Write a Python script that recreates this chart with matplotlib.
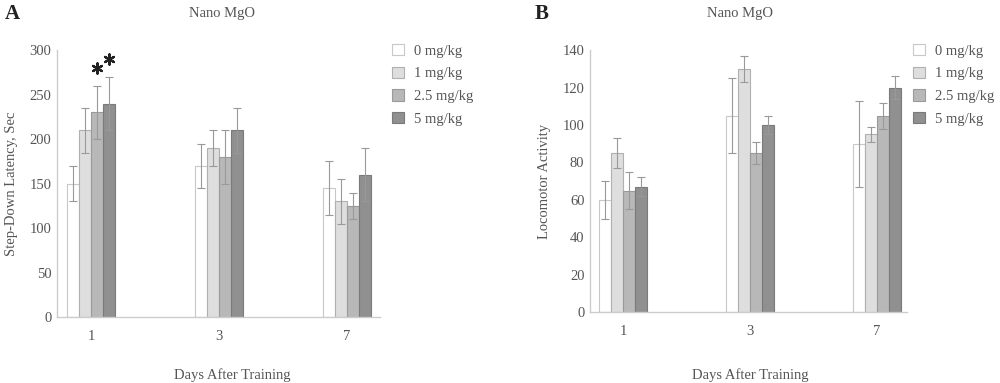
import matplotlib
matplotlib.use("Agg")
import matplotlib.pyplot as plt
import numpy as np

days = ["1", "3", "7"]
doses = ["0 mg/kg", "1 mg/kg", "2.5 mg/kg", "5 mg/kg"]
colors = ["#ffffff", "#dedede", "#b8b8b8", "#909090"]
edges = ["#c8c8c8", "#b0b0b0", "#9a9a9a", "#7a7a7a"]

latency_mean = [[150, 210, 230, 240], [170, 190, 180, 210], [145, 130, 125, 160]]
latency_err = [[20, 25, 30, 30], [25, 20, 30, 25], [30, 25, 15, 30]]
loco_mean = [[60, 85, 65, 67], [105, 130, 85, 100], [90, 95, 105, 120]]
loco_err = [[10, 8, 10, 5], [20, 7, 6, 5], [23, 4, 7, 6]]
star_groups = [2, 3]

plt.rcParams['font.family'] = ['Liberation Serif', 'DejaVu Serif']
txt = "#555555"
fs = 10.5

fig = plt.figure(figsize=(10, 3.83), dpi=100)
axA = fig.add_axes([0.057, 0.172, 0.323, 0.697])
axB = fig.add_axes([0.590, 0.185, 0.317, 0.684])

w = 0.094
x = np.arange(len(days))

def draw(ax, means, errs, ylim, yticks, ylabel):
    means = np.array(means)
    errs = np.array(errs)
    handles = []
    for j in range(len(doses)):
        pos = x + (j - 1.5) * w
        b = ax.bar(pos, means[:, j], width=w, color=colors[j], edgecolor=edges[j],
                   linewidth=0.8, label=doses[j], zorder=2)
        ax.errorbar(pos, means[:, j], yerr=errs[:, j], fmt="none", ecolor="#999999",
                    elinewidth=0.8, capsize=3, capthick=0.8, zorder=3)
        handles.append(b)
    ax.set_ylim(*ylim)
    ax.set_yticks(yticks)
    ax.set_xticks(x)
    ax.set_xticklabels(days)
    for s in ["top", "right"]:
        ax.spines[s].set_visible(False)
    for s in ["left", "bottom"]:
        ax.spines[s].set_color("#cccccc")
        ax.spines[s].set_linewidth(1.0)
    ax.tick_params(axis="both", length=0, labelsize=fs, colors=txt, pad=4)
    ax.tick_params(axis="x", pad=9)
    ax.set_ylabel(ylabel, fontsize=fs, color=txt, labelpad=8)
    return handles

hA = draw(axA, latency_mean, latency_err, (0, 300), [0, 50, 100, 150, 200, 250, 300],
          "Step-Down Latency, Sec")
axA.set_xlim(-0.266, 2.258)
hB = draw(axB, loco_mean, loco_err, (0, 140), [0, 20, 40, 60, 80, 100, 120, 140],
          "Locomotor Activity")
axB.set_xlim(-0.26, 2.236)

# significance stars
lm = np.array(latency_mean)
le = np.array(latency_err)
for j in star_groups:
    axA.scatter([x[0] + (j - 1.5) * w], [lm[0, j] + le[0, j] + 20], marker=(6, 2, 0),
                s=55, linewidths=1.6, color="#222222", zorder=4, clip_on=False)

for handles, ax0 in [(hA, 0.392), (hB, 0.913)]:
    leg = fig.legend(handles=handles, loc="upper left", bbox_to_anchor=(ax0, 0.885),
                     frameon=False, fontsize=fs, handlelength=0.8, handleheight=0.8,
                     handletextpad=0.7, labelspacing=0.62, borderaxespad=0, borderpad=0)
    for t in leg.get_texts():
        t.set_color(txt)

fig.text(0.222, 1 - 14 / 383, "Nano MgO", fontsize=fs, color=txt, ha="center", va="center")
fig.text(0.740, 1 - 14 / 383, "Nano MgO", fontsize=fs, color=txt, ha="center", va="center")
fig.text(0.232, 1 - 375 / 383, "Days After Training", fontsize=fs, color=txt, ha="center", va="center")
fig.text(0.750, 1 - 375 / 383, "Days After Training", fontsize=fs, color=txt, ha="center", va="center")

fig.text(0.005, 1 - 14 / 383, "A", fontsize=15, fontweight="bold", color="#222222", va="center")
fig.text(0.535, 1 - 14 / 383, "B", fontsize=15, fontweight="bold", color="#222222", va="center")

fig.savefig("out.png", dpi=100, facecolor="white")
